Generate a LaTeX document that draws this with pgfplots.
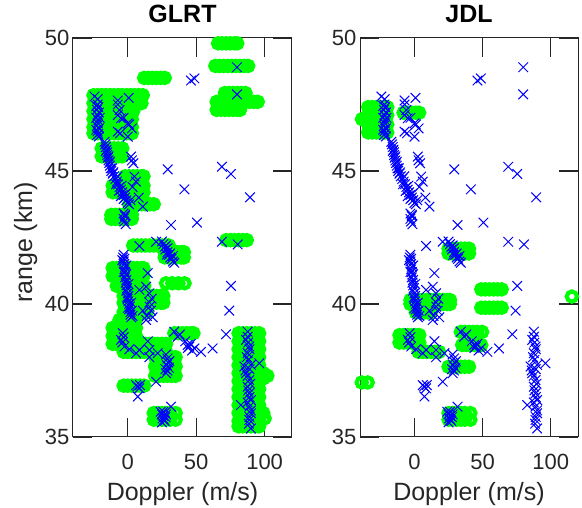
\documentclass[border=0pt]{standalone}
\usepackage{fontspec}
\setmainfont{Liberation Sans}
\usepackage{pgfplots}
\usepackage{pgfplotstable}
\pgfplotsset{compat=1.18}

\definecolor{axgray}{rgb}{0.15,0.15,0.15}

% blue x marks (same set in both panels): Doppler, range
\pgfplotstableread[row sep=\\]{
d r\\
79.8 48.9\\ 46.2 48.4\\ 48.7 48.48\\ 79.8 47.88\\
-21.9 47.7\\ -24.3 47.8\\ -7.3 47.65\\ -7.3 47.5\\ 0.7 47.75\\
-22 47.5\\ -21.5 47.4\\ -22.5 47.3\\ -21 47.2\\ -22 47.1\\ -23 47.0\\ -21.5 46.9\\ -22 46.8\\
-22.5 46.7\\ -21 46.6\\ -22 46.5\\ -21.5 46.4\\ -22.5 46.35\\ -21 46.3\\ -23 47.45\\ -20.5 47.0\\ -23 46.55\\
-6 47.29\\ -7.3 47.1\\ -5 46.98\\ 0 46.79\\ -7.3 46.48\\ 0 46.29\\ -5.5 46.42\\ -3 47.0\\ 1 46.75\\ 3 46.6\\
-17 46.1\\ -16.5 46.0\\ -16 45.9\\ -15.5 45.8\\ -15 45.7\\ -15 45.6\\ -14.5 45.5\\ -14 45.4\\
-13.5 45.3\\ -13 45.2\\ -12.5 45.1\\ -12 45.0\\ -11 44.9\\ -10 44.8\\ -9 44.7\\ -8 44.6\\
-7 44.5\\ -6 44.4\\ -5 44.3\\ -4 44.2\\ -3 44.1\\ -2 44.0\\ -1 43.9\\ 0 43.8\\ 1 43.75\\
-16 45.75\\ -14 45.55\\ -13 45.35\\ -11.5 45.1\\ -10.5 44.95\\ -8.5 44.5\\ -6.5 44.25\\
-4.5 44.45\\ -3 43.95\\ -1.5 44.15\\ 2 43.9\\ -7.5 44.8\\ -5 44.05\\
2.4 45.54\\ 4.1 45.29\\ 3 45.4\\ 4.9 44.79\\ 6 44.6\\ 3.5 44.4\\ 11 43.66\\ 8 44.0\\
-3 43.4\\ -2 43.3\\ -3 43.2\\ -2.5 43.1\\ -1.5 43.0\\ -2 43.35\\
29.2 45.06\\ 41.4 44.31\\ 68.8 45.16\\ 75.4 44.89\\ 89.3 44.01\\ 31.6 42.97\\ 50.6 43.06\\
68.8 42.34\\ 80.3 42.24\\ 8.5 42.18\\ 20.7 42.34\\
25 42.35\\ 26 42.25\\ 27 42.15\\ 27.5 42.05\\ 28 42.2\\ 29 41.95\\ 30 41.85\\ 31 41.75\\
32 41.7\\ 33 41.6\\ 34 41.55\\ 29 42.1\\ 31 41.9\\ 28.5 41.85\\ 33 41.8\\
-3 41.85\\ -3.5 41.75\\ -2.5 41.7\\ -3 41.6\\ -2.5 41.5\\ -2 41.4\\ -2.5 41.3\\ -2 41.2\\
-1.5 41.1\\ -2 41.0\\ -1 40.9\\ -1.5 40.8\\ -1 40.7\\ -0.5 40.6\\ -1 40.5\\ 0 40.4\\
0.5 40.3\\ 0 40.2\\ 0.5 40.1\\ 1 40.0\\ 1.5 39.9\\ 1 39.8\\ 2 39.7\\ 2 39.6\\ 2.5 39.5\\
-4 41.65\\ -1 41.45\\ -3 41.2\\ 0.5 40.75\\ -0.5 40.25\\ 2.5 40.05\\ 3 39.75\\ 0 39.85\\ 3.5 39.55\\
14.6 41.16\\ 13.4 40.65\\ 15.8 40.4\\ 8.5 40.53\\ 15.8 40.06\\ 17 39.75\\ 18.2 39.5\\
11 39.75\\ 13.4 39.4\\ 16 39.9\\ 14 39.55\\ 17.5 40.2\\
75.4 40.68\\ 74.2 39.75\\ 71.8 38.86\\
-3.6 38.9\\ -4.9 38.65\\ -2.4 38.4\\ 1.2 38.3\\ 6.1 38.15\\ 8.5 38.27\\ 14.6 38.6\\
15.8 38.27\\ 15.8 38.0\\ 21.9 38.15\\ -3 38.75\\ -4 38.55\\
28 38.1\\ 29 37.95\\ 29.5 37.8\\ 28.5 37.7\\ 30 37.6\\ 29 37.5\\ 28 37.4\\ 30.4 37.85\\ 27.5 37.55\\
20.7 37.08\\ 6.1 36.95\\ 8.5 36.83\\ 7.3 36.52\\ 7 36.9\\ 9 36.95\\
34 38.96\\ 36.5 38.77\\ 38 38.85\\ 43.8 38.46\\ 45 38.4\\ 46 38.5\\ 44 38.35\\ 48.7 38.33\\
53.5 38.2\\ 62 38.33\\ 47 38.25\\ 42 38.6\\
31.6 36.14\\ 24 35.95\\ 25 35.85\\ 26 35.8\\ 25.5 35.7\\ 26.5 35.65\\ 27 35.6\\ 25 35.55\\
27.5 35.75\\ 26 35.95\\ 28 35.85\\
87.6 38.96\\ 87.6 38.77\\ 86.4 38.65\\ 88.8 38.4\\ 87.6 38.15\\ 85.2 37.65\\ 90 37.71\\
96.1 37.77\\ 86.4 37.4\\ 88.8 37.14\\ 87.6 36.89\\ 88.8 36.64\\ 90 36.39\\ 82.7 36.2\\
88.8 36.14\\ 90 35.89\\ 88.8 35.64\\ 90 35.32\\
88 38.55\\ 89 38.3\\ 87 38.0\\ 88 37.9\\ 89 37.55\\ 87.5 37.3\\ 89.5 37.0\\ 88 36.75\\
89 36.5\\ 87.5 36.3\\ 90 36.0\\ 89 35.75\\ 88.5 35.5\\ 86 37.5\\
}\targets

% GLRT detections (green circles)
\pgfplotstableread[row sep=\\]{
d r\\
66 49.8\\ 69 49.8\\ 72 49.8\\ 75 49.8\\ 78 49.8\\ 80 49.8\\
64 48.95\\ 67 48.95\\ 70 48.95\\ 73 48.95\\ 76 48.95\\ 79 48.95\\ 82 48.95\\ 85 48.95\\ 88 48.95\\
12 48.5\\ 15 48.5\\ 18 48.5\\ 21 48.5\\ 24 48.5\\ 27 48.5\\
71 47.93\\ 74 47.93\\ 77 47.93\\ 80 47.93\\ 83 47.93\\ 86 47.93\\
65 47.6\\ 68 47.6\\ 71 47.6\\ 74 47.6\\ 77 47.6\\ 80 47.6\\ 83 47.6\\ 86 47.6\\ 89 47.6\\ 92 47.6\\ 95 47.6\\
65 47.3\\ 68 47.3\\ 71 47.3\\ 74 47.3\\ 77 47.3\\ 80 47.3\\ 82 47.3\\
-25 47.85\\ -22 47.85\\ -19 47.85\\ -16 47.85\\ -13 47.85\\ -10 47.85\\ -7 47.85\\ -4 47.85\\ -1 47.85\\ 2 47.85\\ 5 47.85\\ 8 47.85\\ 11 47.85\\
-25 47.55\\ -22 47.55\\ -19 47.55\\ -16 47.55\\ -13 47.55\\ -10 47.55\\ -7 47.55\\ -4 47.55\\ -1 47.55\\ 2 47.55\\ 5 47.55\\ 8 47.55\\ 10 47.55\\
-25 47.25\\ -22 47.25\\ -19 47.25\\ -16 47.25\\ -13 47.25\\ -10 47.25\\ -7 47.25\\ -4 47.25\\ -1 47.25\\ 2 47.25\\ 4 47.25\\
-25 46.95\\ -22 46.95\\ -19 46.95\\ -16 46.95\\ -13 46.95\\ -10 46.95\\ -7 46.95\\ -4 46.95\\ -1 46.95\\ 2 46.95\\ 3 46.95\\
-25 46.65\\ -22 46.65\\ -19 46.65\\ -16 46.65\\ -13 46.65\\ -10 46.65\\ -7 46.65\\ -4 46.65\\ -1 46.65\\ 2 46.65\\ 3 46.65\\
-25 46.42\\ -22 46.42\\ -19 46.42\\ -16 46.42\\ -13 46.42\\ -10 46.42\\ -7 46.42\\ -4 46.42\\ -1 46.42\\ 2 46.42\\ 3 46.42\\
-19 45.85\\ -16 45.85\\ -13 45.85\\ -10 45.85\\ -7 45.85\\ -4 45.85\\
-19 45.55\\ -16 45.55\\ -13 45.55\\ -10 45.55\\ -7 45.55\\ -4 45.55\\
-2 44.8\\ 1 44.8\\ 4 44.8\\ 7 44.8\\ 10 44.8\\ 11.5 44.8\\
-11 44.45\\ -8 44.45\\ -5 44.45\\ -2 44.45\\ 1 44.45\\ 4 44.45\\ 7 44.45\\ 10 44.45\\ 11.5 44.45\\
-11 44.2\\ -8 44.2\\ -5 44.2\\ -2 44.2\\ 1 44.2\\ 4 44.2\\ 7 44.2\\ 10 44.2\\ 11.5 44.2\\
1 43.75\\ 4 43.75\\ 7 43.75\\ 10 43.75\\ 13 43.75\\ 16 43.75\\ 19 43.75\\
-12 43.35\\ -9 43.35\\ -6 43.35\\ -3 43.35\\ 0 43.35\\ 3 43.35\\
-12 43.2\\ -9 43.2\\ -6 43.2\\ -3 43.2\\ 0 43.2\\ 3 43.2\\
72 42.4\\ 75 42.4\\ 78 42.4\\ 81 42.4\\ 84 42.4\\ 87 42.4\\
4 42.2\\ 7 42.2\\ 10 42.2\\ 13 42.2\\ 16 42.2\\ 19 42.2\\ 22 42.2\\ 25 42.2\\ 28 42.2\\ 30 42.2\\
27 41.95\\ 30 41.95\\ 33 41.95\\ 36 41.95\\ 39 41.95\\ 41 41.95\\
27 41.75\\ 30 41.75\\ 33 41.75\\ 36 41.75\\ 39 41.75\\ 41 41.75\\
-11 41.35\\ -8 41.35\\ -5 41.35\\ -2 41.35\\ 1 41.35\\ 4 41.35\\ 7 41.35\\ 10 41.35\\ 11.5 41.35\\
-11 41.05\\ -8 41.05\\ -5 41.05\\ -2 41.05\\ 1 41.05\\ 4 41.05\\ 7 41.05\\ 10 41.05\\ 11.5 41.05\\
-8 40.68\\ -5 40.68\\ -2 40.68\\ 1 40.68\\ 4 40.68\\ 7 40.68\\ 10 40.68\\ 12 40.68\\
28 40.78\\ 32.5 40.78\\ 37 40.78\\ 41.5 40.78\\
-3 40.3\\ 0 40.3\\ 3 40.3\\ 6 40.3\\ 9 40.3\\ 12 40.3\\ 15 40.3\\ 18 40.3\\ 21 40.3\\ 24 40.3\\ 26 40.3\\
-3 40.05\\ 0 40.05\\ 3 40.05\\ 6 40.05\\ 9 40.05\\ 12 40.05\\ 15 40.05\\ 18 40.05\\ 21 40.05\\ 24 40.05\\ 26 40.05\\
-3 39.7\\ 0 39.7\\ 3 39.7\\ 6 39.7\\ 9 39.7\\ 12 39.7\\ 14 39.7\\
-6 39.4\\ -3 39.4\\ 0 39.4\\ 3 39.4\\ 6 39.4\\
-11 39.1\\ -8 39.1\\ -5 39.1\\ -2 39.1\\ 1 39.1\\ 4 39.1\\ 6 39.1\\
-11 38.8\\ -8 38.8\\ -5 38.8\\ -2 38.8\\ 1 38.8\\ 4 38.8\\ 6 38.8\\
34 38.9\\ 37 38.9\\ 40 38.9\\ 43 38.9\\ 46 38.9\\ 48 38.9\\
-11 38.5\\ -8 38.5\\ -5 38.5\\ -2 38.5\\ 1 38.5\\ 4 38.5\\ 7 38.5\\ 10 38.5\\ 13 38.5\\ 16 38.5\\ 19 38.5\\ 22 38.5\\ 25 38.5\\ 28 38.5\\
-3 38.2\\ 0 38.2\\ 3 38.2\\ 6 38.2\\ 9 38.2\\ 12 38.2\\ 15 38.2\\ 18 38.2\\ 21 38.2\\ 24 38.2\\ 27 38.2\\ 28 38.2\\
20 38.0\\ 23 38.0\\ 26 38.0\\ 29 38.0\\ 32 38.0\\ 35 38.0\\
20 37.65\\ 23 37.65\\ 26 37.65\\ 29 37.65\\ 32 37.65\\ 35 37.65\\
20 37.3\\ 23 37.3\\ 26 37.3\\ 29 37.3\\ 32 37.3\\ 35 37.3\\
-3 36.93\\ 0 36.93\\ 3 36.93\\ 6 36.93\\ 9 36.93\\ 12 36.93\\
19 35.9\\ 22 35.9\\ 25 35.9\\ 28 35.9\\ 31 35.9\\ 35 35.9\\
19 35.65\\ 22 35.65\\ 25 35.65\\ 28 35.65\\ 31 35.65\\ 35 35.65\\
81 38.9\\ 84 38.9\\ 87 38.9\\ 90 38.9\\ 93 38.9\\ 96 38.9\\
81 38.6\\ 84 38.6\\ 87 38.6\\ 90 38.6\\ 93 38.6\\ 96 38.6\\
81 38.3\\ 84 38.3\\ 87 38.3\\ 90 38.3\\ 93 38.3\\ 96 38.3\\
81 38.0\\ 84 38.0\\ 87 38.0\\ 90 38.0\\ 93 38.0\\ 96 38.0\\
81 37.7\\ 84 37.7\\ 87 37.7\\ 90 37.7\\ 93 37.7\\ 96 37.7\\
81 37.4\\ 84 37.4\\ 87 37.4\\ 90 37.4\\ 93 37.4\\ 96 37.4\\ 99 37.4\\
81 37.1\\ 84 37.1\\ 87 37.1\\ 90 37.1\\ 93 37.1\\ 96 37.1\\ 99 37.2\\ 102 37.3\\
81 36.8\\ 84 36.8\\ 87 36.8\\ 90 36.8\\ 93 36.8\\ 96 36.8\\
81 36.5\\ 84 36.5\\ 87 36.5\\ 90 36.5\\ 93 36.5\\ 96 36.5\\
81 36.2\\ 84 36.2\\ 87 36.2\\ 90 36.2\\ 93 36.2\\ 96 36.2\\
81 35.9\\ 84 35.9\\ 87 35.9\\ 90 35.9\\ 93 35.9\\ 96 35.9\\ 99 35.9\\
81 35.6\\ 84 35.6\\ 87 35.6\\ 90 35.6\\ 93 35.6\\ 96 35.6\\ 100 35.7\\
81 35.4\\ 84 35.4\\ 87 35.4\\ 90 35.4\\ 93 35.4\\ 96 35.4\\
}\glrtdet

% JDL detections (green circles)
\pgfplotstableread[row sep=\\]{
d r\\
-34 47.4\\ -31 47.4\\ -28 47.4\\ -25 47.4\\ -22 47.4\\ -20 47.4\\
-34 47.1\\ -31 47.1\\ -28 47.1\\ -25 47.1\\ -22 47.1\\ -20 47.1\\
-38.5 46.95\\ -36 46.95\\
-34 46.75\\ -31 46.75\\ -28 46.75\\ -25 46.75\\ -22 46.75\\ -20 46.75\\
-34 46.45\\ -31 46.45\\ -28 46.45\\ -25 46.45\\ -22 46.45\\ -20 46.45\\
-8 47.19\\ -5 47.19\\ -2 47.19\\ 1 47.19\\ 3.4 47.19\\
25 42.08\\ 28 42.08\\ 31 42.08\\ 34 42.08\\ 37 42.08\\ 40 42.08\\
25 41.9\\ 28 41.9\\ 31 41.9\\ 34 41.9\\ 37 41.9\\ 40 41.9\\
49 40.55\\ 52 40.55\\ 55 40.55\\ 58 40.55\\ 61 40.55\\ 64 40.55\\
49 39.86\\ 52 39.86\\ 55 39.86\\ 58 39.86\\ 61 39.86\\ 64 39.86\\
-3 40.15\\ 0 40.15\\ 3 40.15\\ 6 40.15\\ 9 40.15\\ 12 40.15\\ 15 40.15\\ 18 40.15\\ 21 40.15\\ 24 40.15\\ 26 40.15\\
-3 40.0\\ 0 40.0\\ 3 40.0\\ 6 40.0\\ 9 40.0\\ 12 40.0\\ 15 40.0\\ 18 40.0\\ 21 40.0\\ 24 40.0\\ 26 40.0\\
1 39.68\\ 4 39.68\\ 7 39.68\\ 10 39.68\\ 12 39.68\\
-11 38.83\\ -8 38.83\\ -5 38.83\\ -2 38.83\\ 1 38.83\\ 3.5 38.83\\
-11 38.55\\ -8 38.55\\ -5 38.55\\ -2 38.55\\ 1 38.55\\ 3.5 38.55\\
3 38.2\\ 6 38.2\\ 9 38.2\\ 12 38.2\\ 15 38.2\\ 18 38.2\\
34 38.95\\ 37 38.95\\ 40 38.95\\ 43 38.95\\ 46 38.95\\ 49.6 38.95\\
35 38.46\\ 38 38.46\\ 41 38.46\\ 44 38.46\\ 47 38.46\\ 49 38.46\\
25 37.64\\ 28 37.64\\ 31 37.64\\ 34 37.64\\ 37 37.64\\ 40 37.64\\
25 35.9\\ 28 35.9\\ 31 35.9\\ 34 35.9\\ 37 35.9\\ 41 35.9\\
25 35.65\\ 28 35.65\\ 31 35.65\\ 34 35.65\\ 37 35.65\\ 41 35.65\\
-38.7 37.05\\ -34.3 37.05\\
115.5 40.28\\
}\jdldet

\tikzset{tickline/.style={draw=axgray, line width=1.2pt}}

\pgfplotsset{
  rdmap/.style={
    scale only axis, anchor=south west,
    height=399pt,
    xmin=-40, xmax=120, ymin=35, ymax=50,
    xtick={0,50,100}, ytick={35,40,45,50},
    axis on top,
    axis line style={axgray, line width=1pt},
    major tick length=19pt,
    major tick style={draw=axgray, line width=1.2pt},
    ticklabel style={font=\fontsize{22}{26}\selectfont, text=axgray},
    xticklabel style={anchor=base, yshift=-33pt},
    xlabel style={at={(axis description cs:0.5,-0.158)}, anchor=base,
      font=\fontsize{25}{30}\selectfont, text=axgray},
    title style={at={(axis description cs:0.5,1.025)}, anchor=base,
      font=\fontsize{25}{30}\selectfont\bfseries},
    clip=false,
    /pgf/number format/assume math mode=true,
  },
  detmark/.style={only marks, mark=o, color=green, mark size=5.1pt, line width=4.2pt},
  tgtmark/.style={only marks, mark=x, color=blue, mark size=6.8pt, line width=1pt},
}

% inward MATLAB-style ticks on all four sides
\newcommand{\boxticks}{%
  \pgfplotsinvokeforeach{0,50,100}{%
    \draw[tickline] (axis cs:##1,35) -- ++(0pt,19pt);
    \draw[tickline] (axis cs:##1,50) -- ++(0pt,-19pt);}%
  \pgfplotsinvokeforeach{40,45}{%
    \draw[tickline] (axis cs:-40,##1) -- ++(19pt,0pt);
    \draw[tickline] (axis cs:120,##1) -- ++(-19pt,0pt);}%
}

\begin{document}
\begin{tikzpicture}
\useasboundingbox (0,0) rectangle (582pt,508pt);

\begin{axis}[rdmap, at={(73pt,71pt)}, width=219pt,
  title={GLRT}, xlabel={Doppler (m/s)}, ylabel={range (km)},
  ylabel style={at={(axis description cs:-0.1872,0.4875)}, anchor=base,
    font=\fontsize{25}{30}\selectfont, text=axgray}]
  \addplot[detmark] table[x=d, y=r] {\glrtdet};
  \addplot[tgtmark] table[x=d, y=r] {\targets};
  \boxticks
\end{axis}

\begin{axis}[rdmap, at={(360pt,71pt)}, width=218pt,
  title={JDL}, xlabel={Doppler (m/s)}]
  \addplot[detmark] table[x=d, y=r] {\jdldet};
  \addplot[tgtmark] table[x=d, y=r] {\targets};
  \boxticks
\end{axis}
\end{tikzpicture}
\end{document}
